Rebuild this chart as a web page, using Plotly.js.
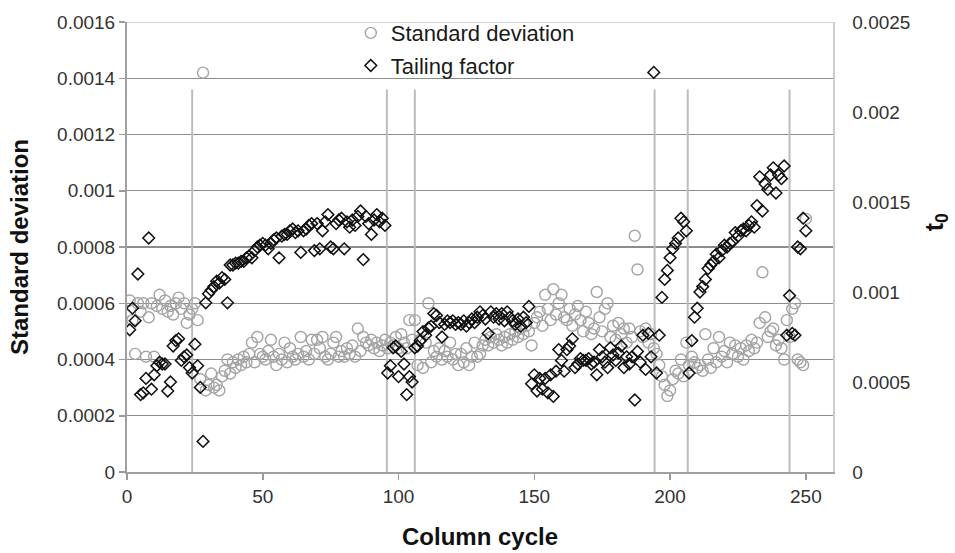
<!DOCTYPE html>
<html>
<head>
<meta charset="utf-8">
<script src="https://cdn.plot.ly/plotly-3.0.1.min.js"></script>
<style>
  html, body { margin: 0; padding: 0; background: #fff; }
  #chart { width: 955px; height: 553px; }
</style>
</head>
<body>
<div id="chart"></div>
<script>
// Standard deviation per column cycle (left axis), cycles 1..250
const stdDev = [
  6.1e-4,5.4e-4,4.2e-4,6.0e-4,5.7e-4,6.0e-4,4.1e-4,5.5e-4,6.0e-4,4.1e-4,
  5.9e-4,6.3e-4,5.8e-4,6.1e-4,5.7e-4,5.9e-4,5.6e-4,6.0e-4,6.2e-4,5.8e-4,
  6.0e-4,5.3e-4,5.6e-4,5.8e-4,6.0e-4,5.4e-4,3.3e-4,14.2e-4,2.9e-4,3.1e-4,
  3.5e-4,3.0e-4,3.1e-4,2.9e-4,3.4e-4,3.6e-4,4.0e-4,3.5e-4,3.9e-4,3.7e-4,
  4.0e-4,3.8e-4,4.1e-4,3.9e-4,4.2e-4,4.6e-4,3.9e-4,4.8e-4,4.2e-4,4.1e-4,
  4.0e-4,4.3e-4,4.7e-4,4.1e-4,3.8e-4,4.2e-4,4.0e-4,4.6e-4,3.9e-4,4.4e-4,
  4.1e-4,4.0e-4,4.2e-4,4.8e-4,4.1e-4,4.3e-4,4.0e-4,4.7e-4,4.2e-4,4.7e-4,
  4.4e-4,4.8e-4,4.1e-4,4.0e-4,4.2e-4,4.6e-4,4.8e-4,4.1e-4,4.3e-4,4.1e-4,
  4.4e-4,4.2e-4,4.5e-4,4.1e-4,5.1e-4,4.3e-4,4.8e-4,4.6e-4,4.5e-4,4.7e-4,
  4.4e-4,4.6e-4,4.3e-4,4.5e-4,4.7e-4,4.4e-4,4.6e-4,4.5e-4,4.8e-4,4.4e-4,
  4.9e-4,4.6e-4,4.4e-4,5.4e-4,4.7e-4,5.4e-4,3.8e-4,4.7e-4,3.7e-4,4.6e-4,
  6.0e-4,3.9e-4,4.3e-4,4.1e-4,4.4e-4,4.0e-4,4.3e-4,4.1e-4,4.6e-4,4.0e-4,
  4.2e-4,3.8e-4,4.2e-4,3.9e-4,4.4e-4,3.8e-4,4.1e-4,4.6e-4,4.1e-4,4.2e-4,
  4.5e-4,4.7e-4,4.5e-4,4.8e-4,4.6e-4,4.9e-4,4.7e-4,4.5e-4,4.8e-4,4.6e-4,
  4.9e-4,4.7e-4,5.0e-4,4.8e-4,5.1e-4,4.9e-4,5.2e-4,5.0e-4,4.5e-4,5.3e-4,
  5.5e-4,5.7e-4,5.2e-4,6.3e-4,5.8e-4,5.4e-4,6.5e-4,5.6e-4,6.0e-4,6.3e-4,
  5.5e-4,5.4e-4,5.8e-4,5.2e-4,5.6e-4,5.9e-4,5.4e-4,5.0e-4,5.7e-4,5.3e-4,
  4.9e-4,5.1e-4,6.4e-4,5.5e-4,5.0e-4,5.8e-4,6.0e-4,4.8e-4,5.2e-4,4.7e-4,
  5.3e-4,4.9e-4,5.1e-4,4.6e-4,5.1e-4,4.8e-4,8.4e-4,7.2e-4,5.0e-4,4.8e-4,
  5.1e-4,4.6e-4,4.9e-4,4.4e-4,4.2e-4,3.8e-4,3.4e-4,3.1e-4,2.7e-4,2.9e-4,
  3.3e-4,3.6e-4,3.5e-4,4.0e-4,3.4e-4,4.6e-4,3.8e-4,4.1e-4,3.9e-4,3.7e-4,
  3.8e-4,3.6e-4,4.9e-4,4.0e-4,3.7e-4,4.4e-4,3.9e-4,4.8e-4,4.1e-4,4.3e-4,
  3.9e-4,4.6e-4,4.2e-4,4.5e-4,4.1e-4,4.4e-4,4.0e-4,4.5e-4,4.3e-4,4.7e-4,
  4.4e-4,4.6e-4,5.3e-4,7.1e-4,5.5e-4,4.8e-4,5.0e-4,5.1e-4,4.5e-4,4.7e-4,
  4.4e-4,4.0e-4,5.4e-4,4.8e-4,5.8e-4,6.0e-4,4.0e-4,3.9e-4,3.8e-4,9.0e-4
];

// Tailing factor per column cycle (right axis, t0), cycles 1..250
const tailing = [
  7.9e-4,9.1e-4,8.4e-4,11.0e-4,4.3e-4,4.4e-4,5.2e-4,13.0e-4,4.6e-4,5.4e-4,
  5.9e-4,6.1e-4,6.0e-4,6.0e-4,4.5e-4,5.0e-4,7.0e-4,7.3e-4,7.4e-4,6.2e-4,
  6.4e-4,6.5e-4,5.8e-4,5.5e-4,7.1e-4,5.9e-4,4.7e-4,1.7e-4,9.4e-4,9.9e-4,
  10.1e-4,10.3e-4,10.6e-4,10.5e-4,10.8e-4,10.7e-4,9.4e-4,11.5e-4,11.5e-4,11.6e-4,
  11.6e-4,11.7e-4,11.7e-4,11.9e-4,12.0e-4,11.9e-4,12.3e-4,12.5e-4,12.6e-4,12.7e-4,
  12.6e-4,12.4e-4,12.7e-4,12.9e-4,13.0e-4,11.9e-4,13.1e-4,13.2e-4,13.2e-4,13.4e-4,
  13.5e-4,13.3e-4,13.4e-4,12.2e-4,13.4e-4,13.5e-4,13.7e-4,13.8e-4,12.3e-4,13.8e-4,
  12.4e-4,13.4e-4,13.9e-4,14.3e-4,12.5e-4,12.4e-4,13.8e-4,14.0e-4,14.1e-4,12.4e-4,
  13.9e-4,13.6e-4,14.0e-4,13.7e-4,14.2e-4,14.5e-4,11.8e-4,14.2e-4,13.8e-4,13.2e-4,
  14.0e-4,14.3e-4,13.9e-4,14.1e-4,13.7e-4,5.5e-4,5.9e-4,6.9e-4,7.0e-4,5.3e-4,
  6.7e-4,6.0e-4,4.3e-4,5.3e-4,5.0e-4,6.9e-4,7.0e-4,7.3e-4,7.8e-4,7.6e-4,
  8.0e-4,8.1e-4,8.8e-4,8.7e-4,8.3e-4,7.5e-4,8.2e-4,8.4e-4,8.3e-4,8.4e-4,
  8.2e-4,8.3e-4,8.2e-4,8.4e-4,8.1e-4,8.3e-4,8.5e-4,8.3e-4,8.6e-4,8.9e-4,
  8.7e-4,8.5e-4,7.7e-4,8.9e-4,8.6e-4,8.8e-4,8.5e-4,8.8e-4,8.4e-4,8.9e-4,
  8.6e-4,8.4e-4,8.2e-4,8.5e-4,8.1e-4,8.6e-4,8.3e-4,9.2e-4,4.9e-4,5.4e-4,
  4.5e-4,5.2e-4,4.6e-4,5.2e-4,4.4e-4,5.4e-4,4.2e-4,5.6e-4,6.8e-4,6.2e-4,
  5.6e-4,6.8e-4,7.0e-4,7.4e-4,5.8e-4,6.0e-4,6.3e-4,6.2e-4,6.2e-4,6.3e-4,
  6.0e-4,6.1e-4,5.4e-4,6.8e-4,6.4e-4,6.1e-4,5.8e-4,6.9e-4,6.5e-4,6.2e-4,
  6.6e-4,7.0e-4,5.8e-4,6.4e-4,6.0e-4,6.4e-4,4.0e-4,6.7e-4,6.1e-4,7.6e-4,
  5.7e-4,7.7e-4,6.4e-4,22.2e-4,5.5e-4,7.6e-4,9.7e-4,10.7e-4,11.2e-4,11.9e-4,
  12.4e-4,12.7e-4,13.0e-4,14.1e-4,13.9e-4,13.4e-4,5.5e-4,7.3e-4,8.6e-4,9.1e-4,
  10.0e-4,10.3e-4,10.7e-4,11.3e-4,11.5e-4,11.7e-4,12.1e-4,11.9e-4,12.3e-4,12.6e-4,
  12.5e-4,12.7e-4,12.8e-4,13.3e-4,13.1e-4,13.4e-4,13.5e-4,13.4e-4,13.7e-4,13.9e-4,
  13.6e-4,14.8e-4,16.4e-4,14.5e-4,16.0e-4,15.7e-4,16.5e-4,16.9e-4,15.5e-4,16.5e-4,
  16.3e-4,17.0e-4,7.6e-4,9.8e-4,7.7e-4,7.6e-4,12.5e-4,12.4e-4,14.1e-4,13.4e-4
];

// Cycles at which the column setup changed (vertical markers)
const changeCycles = [24, 95.7, 106, 194.3, 206.5, 244];

// Axis ticks
const xTicks = [0, 50, 100, 150, 200, 250];
const leftTicks = [0, 0.0002, 0.0004, 0.0006, 0.0008, 0.001, 0.0012, 0.0014, 0.0016];
const leftTickText = ['0', '0.0002', '0.0004', '0.0006', '0.0008', '0.001', '0.0012', '0.0014', '0.0016'];
const rightTicks = [0, 0.0005, 0.001, 0.0015, 0.002, 0.0025];
const rightTickText = ['0', '0.0005', '0.001', '0.0015', '0.002', '0.0025'];

const cycles = stdDev.map((_, i) => i + 1);
const FONT = 'Liberation Sans, Arial, sans-serif';

const traces = [
  {
    type: 'scatter', mode: 'markers', name: 'Standard deviation',
    x: cycles, y: stdDev, yaxis: 'y', legendgroup: 'sd',
    marker: { symbol: 'circle-open', size: 11, color: '#a4a4a4', line: { width: 1.4, color: '#a4a4a4' } }
  },
  {
    type: 'scatter', mode: 'markers', name: 'Tailing factor',
    x: cycles, y: tailing, yaxis: 'y2', legendgroup: 'tf',
    marker: { symbol: 'diamond-open', size: 9, color: '#111', line: { width: 1.5, color: '#111' } }
  }
];

const shapes = changeCycles.map(c => ({
  type: 'line', xref: 'x', yref: 'y', x0: c, x1: c, y0: 0, y1: 0.00136,
  line: { color: '#bcbcbc', width: 2 }, layer: 'between'
}));
// light frame along the top edge
shapes.push({
  type: 'line', xref: 'paper', yref: 'y', x0: 0, x1: 1, y0: 0.0016, y1: 0.0016,
  line: { color: '#d4d4d4', width: 2 }, layer: 'between'
});

const layout = {
  width: 955, height: 553,
  margin: { l: 127, r: 122, t: 20, b: 81, pad: 0 },
  paper_bgcolor: '#fff', plot_bgcolor: '#fff',
  showlegend: true,
  legend: {
    x: 0.317, y: 1.022, xanchor: 'left', yanchor: 'top',
    bgcolor: 'rgba(0,0,0,0)', traceorder: 'grouped', tracegroupgap: 1,
    font: { family: FONT, size: 22, color: '#1a1a1a' }
  },
  xaxis: {
    range: [0, 260], tickvals: xTicks, ticks: 'outside', ticklen: 6, tickwidth: 1.5, tickcolor: '#9a9a9a',
    showline: true, linecolor: '#a0a0a0', linewidth: 2, showgrid: false, zeroline: false,
    tickfont: { family: FONT, size: 19, color: '#333' },
    title: { text: '<b>Column cycle</b>', standoff: 22, font: { family: FONT, size: 24, color: '#111' } }
  },
  yaxis: {
    range: [0, 0.0016], tickvals: leftTicks, ticktext: leftTickText,
    ticks: 'outside', ticklen: 6, tickwidth: 1.5, tickcolor: '#9a9a9a',
    showline: true, linecolor: '#a0a0a0', linewidth: 2,
    showgrid: true, gridcolor: '#8c8c8c', gridwidth: 1.2, zeroline: false,
    tickfont: { family: FONT, size: 19, color: '#333' },
    title: { text: '<b>Standard deviation</b>', standoff: 22, font: { family: FONT, size: 24, color: '#111' } }
  },
  yaxis2: {
    overlaying: 'y', side: 'right', range: [0, 0.0025],
    tickvals: rightTicks, ticktext: rightTickText,
    ticks: 'outside', ticklen: 14, tickcolor: 'rgba(0,0,0,0)',
    showline: true, linecolor: '#cdcdcd', linewidth: 1.5,
    showgrid: false, zeroline: false,
    tickfont: { family: FONT, size: 19, color: '#333' }
  },
  shapes: shapes,
  annotations: [{
    text: '<b>t<sub>0</sub></b>', xref: 'paper', yref: 'paper', x: 1.146, y: 0.555,
    xanchor: 'center', yanchor: 'middle', textangle: -90, showarrow: false,
    font: { family: FONT, size: 25, color: '#111' }
  }]
};

Plotly.newPlot('chart', traces, layout, { displayModeBar: false, staticPlot: true });
</script>
</body>
</html>
